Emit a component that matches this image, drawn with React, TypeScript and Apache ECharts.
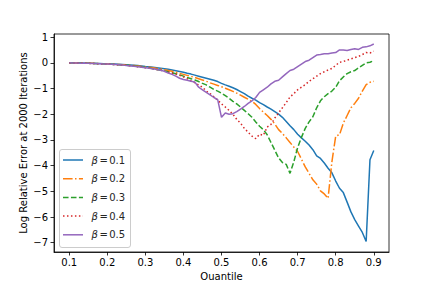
import React, { useEffect, useRef } from "react";
import * as echarts from "echarts";

const quantiles: number[] = Array.from({ length: 81 }, (_, i) => Math.round((10 + i)) / 100);

const beta01 = [
  0, 0, -0.01, -0.01, -0.01, -0.02, -0.02, -0.03, -0.03, -0.04, -0.04, -0.05, -0.05, -0.06, -0.07, -0.08, -0.09, -0.10, -0.11, -0.12, -0.14,
  -0.15, -0.17, -0.19, -0.21, -0.23, -0.25, -0.28, -0.31, -0.34, -0.37,
  -0.41, -0.44, -0.48, -0.52, -0.56, -0.60, -0.64, -0.68, -0.73, -0.80,
  -0.86, -0.91, -0.97, -1.04, -1.12, -1.20, -1.30, -1.38, -1.45, -1.55,
  -1.63, -1.72, -1.80, -1.90, -2.00, -2.12, -2.28, -2.45, -2.60, -2.78,
  -2.92, -3.05, -3.20, -3.38, -3.62, -3.72, -3.90, -4.10, -4.28, -4.60,
  -4.88, -5.05, -5.42, -5.80, -6.10, -6.35, -6.60, -6.95, -3.77, -3.41,
];
const beta02 = [
  0, 0, -0.01, -0.01, -0.01, -0.02, -0.02, -0.03, -0.03, -0.04, -0.05, -0.05, -0.06, -0.07, -0.08, -0.09, -0.10, -0.11, -0.12, -0.14, -0.16,
  -0.17, -0.19, -0.22, -0.24, -0.27, -0.30, -0.33, -0.37, -0.41, -0.45,
  -0.49, -0.53, -0.57, -0.62, -0.67, -0.72, -0.78, -0.83, -0.88, -0.93,
  -0.99, -1.05, -1.11, -1.18, -1.26, -1.34, -1.42, -1.50, -1.62, -1.78,
  -1.92, -2.05, -2.20, -2.38, -2.60, -2.75, -2.92, -3.10, -3.28, -3.45,
  -3.75, -4.05, -4.30, -4.55, -4.72, -4.98, -5.10, -5.27, -3.85, -2.85,
  -2.80, -2.35, -2.05, -1.75, -1.58, -1.38, -1.10, -0.85, -0.76, -0.72,
];
const beta03 = [
  0, 0, -0.01, -0.01, -0.02, -0.02, -0.03, -0.03, -0.04, -0.04, -0.05, -0.06, -0.07, -0.08, -0.09, -0.10, -0.11, -0.12, -0.14, -0.16, -0.18,
  -0.20, -0.23, -0.26, -0.29, -0.32, -0.35, -0.39, -0.43, -0.47, -0.52,
  -0.57, -0.62, -0.67, -0.73, -0.80, -0.86, -0.95, -1.04, -1.10, -1.18,
  -1.28, -1.38, -1.50, -1.60, -1.72, -1.85, -1.98, -2.12, -2.30, -2.47,
  -2.60, -2.80, -3.10, -3.40, -3.70, -3.88, -3.95, -4.30, -3.85, -3.30,
  -2.90, -2.55, -2.30, -2.10, -1.75, -1.48, -1.32, -1.20, -1.10, -0.95,
  -0.70, -0.55, -0.42, -0.35, -0.30, -0.20, -0.10, 0.00, 0.02, 0.08,
];
const beta04 = [
  0, -0.01, -0.01, -0.01, -0.02, -0.02, -0.03, -0.03, -0.04, -0.04, -0.05, -0.06, -0.07, -0.08, -0.09, -0.10, -0.12, -0.13, -0.15, -0.17, -0.19,
  -0.21, -0.23, -0.26, -0.29, -0.33, -0.36, -0.40, -0.44, -0.49, -0.55,
  -0.62, -0.70, -0.78, -0.86, -0.95, -1.10, -1.20, -1.32, -1.45, -1.60,
  -1.72, -1.85, -2.00, -2.20, -2.35, -2.55, -2.70, -2.85, -2.95, -2.78,
  -2.82, -2.50, -2.40, -2.15, -1.95, -1.75, -1.55, -1.33, -1.20, -1.05,
  -0.95, -0.85, -0.72, -0.62, -0.52, -0.42, -0.35, -0.28, -0.22, -0.10,
  0.02, 0.05, 0.10, 0.15, 0.20, 0.25, 0.32, 0.40, 0.38, 0.45,
];
const beta05 = [
  0, -0.01, -0.01, -0.02, -0.02, -0.02, -0.03, -0.03, -0.04, -0.05, -0.05, -0.06, -0.07, -0.08, -0.09, -0.11, -0.12, -0.13, -0.15, -0.17, -0.19,
  -0.21, -0.23, -0.26, -0.29, -0.33, -0.40, -0.45, -0.52, -0.60, -0.65,
  -0.68, -0.72, -0.75, -0.95, -1.05, -1.15, -1.25, -1.35, -1.43, -2.12,
  -1.95, -2.00, -1.98, -1.90, -1.80, -1.70, -1.58, -1.48, -1.35, -1.15,
  -1.05, -0.95, -0.82, -0.72, -0.68, -0.55, -0.42, -0.30, -0.25, -0.15,
  -0.05, 0.05, 0.10, 0.20, 0.30, 0.32, 0.35, 0.35, 0.38, 0.40,
  0.50, 0.50, 0.48, 0.52, 0.55, 0.52, 0.60, 0.62, 0.66, 0.73,
];

const seriesNames = ["0.1", "0.2", "0.3", "0.4", "0.5"];
const seriesValues = [beta01, beta02, beta03, beta04, beta05];
const colors = ["#1f77b4", "#ff7f0e", "#2ca02c", "#d62728", "#9467bd"];
const dashes: (number[] | "solid")[] = ["solid", [9.6, 2.4, 1.5, 2.4], [5.55, 2.4], [1.5, 2.475], "solid"];

const xTicks = [0.1, 0.2, 0.3, 0.4, 0.5, 0.6, 0.7, 0.8, 0.9];
const yTicks = [-7, -6, -5, -4, -3, -2, -1, 0, 1];

const FONT = "DejaVu Sans";

export default function App() {
  const ref = useRef<HTMLDivElement>(null);
  useEffect(() => {
    if (!ref.current) return;
    const chart = echarts.init(ref.current, null, { renderer: "svg" });
    const minus = (v: number) => String(v).replace("-", "\u2212");

    const legendX = 59.5, legendY = 149.5, rowH = 18.7, firstRow = 160;
    const legendChildren: any[] = [
      {
        type: "rect",
        shape: { x: legendX, y: legendY, width: 71, height: 98, r: 2.5 },
        style: { fill: "rgba(255,255,255,0.8)", stroke: "#cccccc", lineWidth: 1 },
      },
    ];
    seriesNames.forEach((n, i) => {
      const y = firstRow + i * rowH;
      legendChildren.push({
        type: "line",
        shape: { x1: 63, y1: y, x2: 83, y2: y },
        style: {
          stroke: colors[i],
          lineWidth: 1.5,
          lineDash: dashes[i] === "solid" ? null : (dashes[i] as number[]),
        },
      });
      legendChildren.push({
        type: "text",
        x: 91.5,
        y: y,
        style: {
          text: "{b|β}{e|=}{n|" + n + "}",
          verticalAlign: "middle",
          rich: {
            b: { fontFamily: FONT, fontStyle: "italic", fontSize: 10, fill: "#262626" },
            e: { fontFamily: FONT, fontSize: 10, fill: "#262626", padding: [0, 1.5, 0, 1.5] },
            n: { fontFamily: FONT, fontSize: 10, fill: "#262626" },
          },
        },
      });
    });

    chart.setOption({
      animation: false,
      textStyle: { fontFamily: FONT },
      grid: {
        left: 54,
        right: 43,
        top: 34,
        bottom: 36,
        show: true,
        borderColor: "#000",
        borderWidth: 0.8,
        backgroundColor: "transparent",
      },
      xAxis: {
        type: "value",
        min: 0.06,
        max: 0.94,
        name: "Quantile",
        nameLocation: "middle",
        nameGap: 19,
        nameMoveOverlap: false,
        nameTextStyle: { fontFamily: FONT, fontSize: 10, color: "#000", verticalAlign: "top" },
        axisLine: { show: true, onZero: false, lineStyle: { color: "#000", width: 0.8 } },
        axisTick: { show: true, length: 3.5, lineStyle: { color: "#000", width: 0.8 }, customValues: xTicks },
        axisLabel: {
          fontFamily: FONT,
          fontSize: 10,
          color: "#000",
          margin: 5,
          customValues: xTicks,
          formatter: (v: number) => v.toFixed(1),
        },
        splitLine: { show: false },
      },
      yAxis: {
        type: "value",
        min: -7.36,
        max: 1.12,
        name: "Log Relative Error at 2000 Iterations",
        nameLocation: "middle",
        nameGap: 26,
        nameMoveOverlap: false,
        nameTextStyle: { fontFamily: FONT, fontSize: 10, color: "#000" },
        axisLine: { show: true, onZero: false, lineStyle: { color: "#000", width: 0.8 } },
        axisTick: { show: true, length: 3.5, lineStyle: { color: "#000", width: 0.8 }, customValues: yTicks },
        axisLabel: {
          fontFamily: FONT,
          fontSize: 10,
          color: "#000",
          margin: 6,
          customValues: yTicks,
          formatter: (v: number) => minus(v),
        },
        splitLine: { show: false },
      },
      series: seriesValues.map((vals, i) => ({
        type: "line",
        name: "β = " + seriesNames[i],
        data: vals.map((v, j) => [quantiles[j], v]),
        symbol: "none",
        lineStyle: { color: colors[i], width: 1.5, type: dashes[i] },
        itemStyle: { color: colors[i] },
        z: 2 + i,
      })),
      graphic: [{ type: "group", z: 100, children: legendChildren }],
    });
    return () => chart.dispose();
  }, []);
  return <div ref={ref} style={{ width: 432, height: 288, margin: -8 }} />;
}
